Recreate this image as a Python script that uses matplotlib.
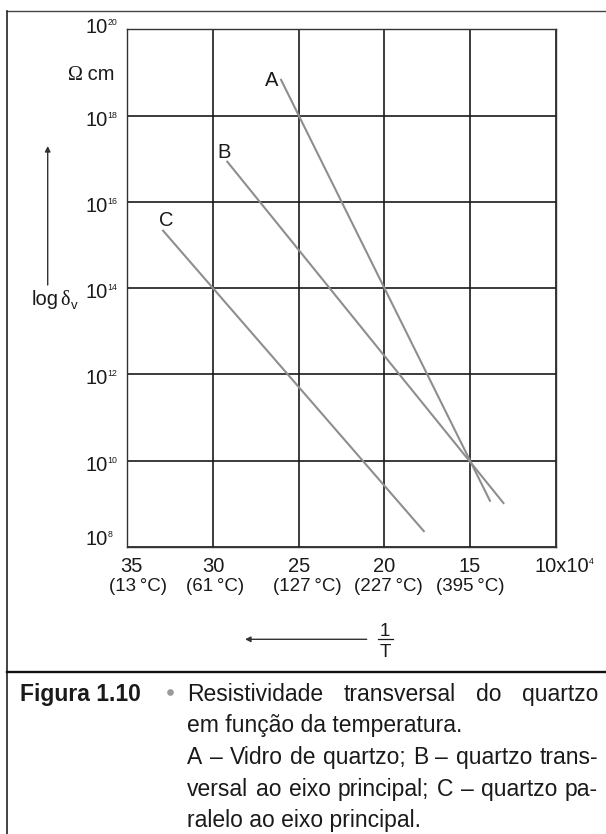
import matplotlib
matplotlib.use('Agg')
import matplotlib.pyplot as plt
from matplotlib.lines import Line2D
from matplotlib.ticker import NullLocator

plt.rcParams['font.family'] = ['Liberation Sans', 'DejaVu Sans']

W, H, DPI = 606, 834, 100

# eixo 1/T (x 10^-4), invertido: frio a esquerda
inv_T = [35, 30, 25, 20, 15, 10]
temp_labels = ['(13\u2009°C)', '(61\u2009°C)', '(127\u2009°C)', '(227\u2009°C)', '(395\u2009°C)']
exp_ticks = [8, 10, 12, 14, 16, 18, 20]

# retas A, B, C: extremos em 1/T e log10 da resistividade
curve_names = ['A', 'B', 'C']
curve_invT = [[26.05, 13.8], [29.2, 13.0], [32.95, 17.65]]
curve_logr = [[18.85, 9.05], [16.95, 9.0], [15.35, 8.35]]

caption_head = 'Figura 1.10'
caption_lines = ['Resistividade transversal do quartzo',
                 'em função da temperatura.',
                 'A – Vidro de quartzo; B – quartzo trans-',
                 'versal ao eixo principal; C – quartzo pa-',
                 'ralelo ao eixo principal.']
caption_justify = [True, False, True, True, False]

INK = '#1a1a1a'
FS = 14.5      # rotulos
FS_T = 13.5    # temperaturas
FS_EXP = 6.3   # expoentes
FS_CAP = 16.5  # legenda


def fx(x):
    return x / W


def fy(y):
    return 1 - y / H


fig = plt.figure(figsize=(W / DPI, H / DPI), dpi=DPI)
fig.canvas.draw()
rend = fig.canvas.get_renderer()

ax = fig.add_axes([fx(127.3), fy(547), fx(555.5) - fx(127.3), fy(29.3) - fy(547)])
ax.set_yscale('log')
ax.set_xlim(35, 10)
ax.set_ylim(1e8, 1e20)
ax.set_xticks(inv_T)
ax.set_yticks([10.0 ** e for e in exp_ticks])
ax.yaxis.set_minor_locator(NullLocator())
ax.tick_params(length=0, labelbottom=False, labelleft=False)
ax.grid(True, which='major', color='#1a1a1a', lw=1.2)
for s in ax.spines.values():
    s.set_color('#333333')
    s.set_linewidth(1.0)

# retas
lab_off = [(-9, -7), (-3, 3), (4, 4)]
for name, xs, ls, off in zip(curve_names, curve_invT, curve_logr, lab_off):
    ys = [10.0 ** v for v in ls]
    ax.plot(xs, ys, color='#8e8e8e', lw=1.5, solid_capstyle='butt')
    ax.annotate(name, (xs[0], ys[0]), xytext=off, textcoords='offset pixels',
                ha='center', va='baseline', fontsize=FS, color=INK)

# rotulos do eixo y: 10 com expoente pequeno
y_base = [-2, 10, 10, 10, 10, 10, 4]
for e, b in zip(exp_ticks, y_base):
    ax.annotate('10', (0, 10.0 ** e), xycoords=('axes fraction', 'data'),
                xytext=(108 - 127.3, -b), textcoords='offset pixels',
                ha='right', va='baseline', fontsize=FS, color=INK)
    ax.annotate(str(e), (0, 10.0 ** e), xycoords=('axes fraction', 'data'),
                xytext=(107.6 - 127.3, -b + 8), textcoords='offset pixels',
                ha='left', va='baseline', fontsize=FS_EXP, color=INK)

# rotulos do eixo x
dx1 = [3.7, 0.3, 0.5, 0, 0]
dx2 = [11, 2, 8.5, 4, 0]
for v, t, a, b in zip(inv_T[:-1], temp_labels, dx1, dx2):
    ax.annotate(str(v), (v, 0), xycoords=('data', 'axes fraction'),
                xytext=(a, -24.7), textcoords='offset pixels',
                ha='center', va='baseline', fontsize=FS, color=INK)
    ax.annotate(t, (v, 0), xycoords=('data', 'axes fraction'),
                xytext=(b, -44), textcoords='offset pixels',
                ha='center', va='baseline', fontsize=FS_T, color=INK)
t10 = ax.annotate('%dx10' % inv_T[-1], (inv_T[-1], 0), xycoords=('data', 'axes fraction'),
                  xytext=(-21, -24.7), textcoords='offset pixels',
                  ha='left', va='baseline', fontsize=FS, color=INK)
w10 = t10.get_window_extent(renderer=rend).width
ax.annotate('4', (inv_T[-1], 0), xycoords=('data', 'axes fraction'),
            xytext=(-21 + w10 - 0.5, -16.7), textcoords='offset pixels',
            ha='left', va='baseline', fontsize=FS_EXP, color=INK)

# unidade e titulo do eixo y
cm = fig.text(fx(115), fy(80), ' cm', ha='right', va='baseline', fontsize=FS, color=INK)
wcm = cm.get_window_extent(renderer=rend).width
fig.text(fx(115 - wcm), fy(80), 'Ω', ha='right', va='baseline', fontsize=FS,
         family='Liberation Serif', color=INK)
fig.text(fx(31.7), fy(305), 'log', ha='left', va='baseline', fontsize=FS, color=INK)
fig.text(fx(60), fy(305), 'δ', ha='left', va='baseline', fontsize=FS,
         family='Liberation Serif', color=INK)
fig.text(fx(70.5), fy(309), 'v', ha='left', va='baseline', fontsize=9.5, color=INK)

# setas
arrow = dict(arrowstyle='-|>', color='#333333', lw=1.0, mutation_scale=8,
             shrinkA=0, shrinkB=0)
fig.add_artist(plt.Annotation('', xy=(fx(47.7), fy(146)), xytext=(fx(47.7), fy(285)),
                              xycoords='figure fraction', arrowprops=arrow))
fig.add_artist(plt.Annotation('', xy=(fx(245), fy(639.3)), xytext=(fx(366.7), fy(639.3)),
                              xycoords='figure fraction', arrowprops=arrow))

# fracao 1/T
fig.text(fx(385), fy(636), '1', ha='center', va='baseline', fontsize=13.5, color=INK)
fig.add_artist(Line2D([fx(377.7), fx(392.7)], [fy(639.3), fy(639.3)], color=INK, lw=0.9))
fig.text(fx(385), fy(657.3), 'T', ha='center', va='baseline', fontsize=13.5, color=INK)

# moldura
fig.add_artist(Line2D([fx(7.3), fx(606)], [fy(10.7), fy(10.7)], color='#444444', lw=1.0))
fig.add_artist(Line2D([fx(7.3), fx(7.3)], [fy(10.7), fy(834)], color='#222222', lw=1.2))
fig.add_artist(Line2D([fx(7.3), fx(606)], [fy(671.7), fy(671.7)], color='#111111', lw=1.7))

# legenda
fig.text(fx(19.5), fy(700.7), caption_head, ha='left', va='baseline', fontsize=FS_CAP,
         weight='bold', color=INK)
fig.add_artist(Line2D([fx(170)], [fy(691.7)], marker='o', ms=4.8, color='#9a9a9a', mec='none'))

x0, x1 = 187, 598
base0, step = 700.7, 31.7
for i, (line, just) in enumerate(zip(caption_lines, caption_justify)):
    yb = fy(base0 + i * step)
    if not just:
        fig.text(fx(x0), yb, line, ha='left', va='baseline', fontsize=FS_CAP, color=INK)
        continue
    words = line.split(' ')
    texts = [fig.text(0, yb, w, ha='left', va='baseline', fontsize=FS_CAP, color=INK)
             for w in words]
    widths = [t.get_window_extent(renderer=rend).width for t in texts]
    gap = (x1 - x0 - sum(widths)) / (len(words) - 1)
    x = x0
    for t, w in zip(texts, widths):
        t.set_x(fx(x))
        x += w + gap

fig.savefig('out.png', dpi=DPI)
